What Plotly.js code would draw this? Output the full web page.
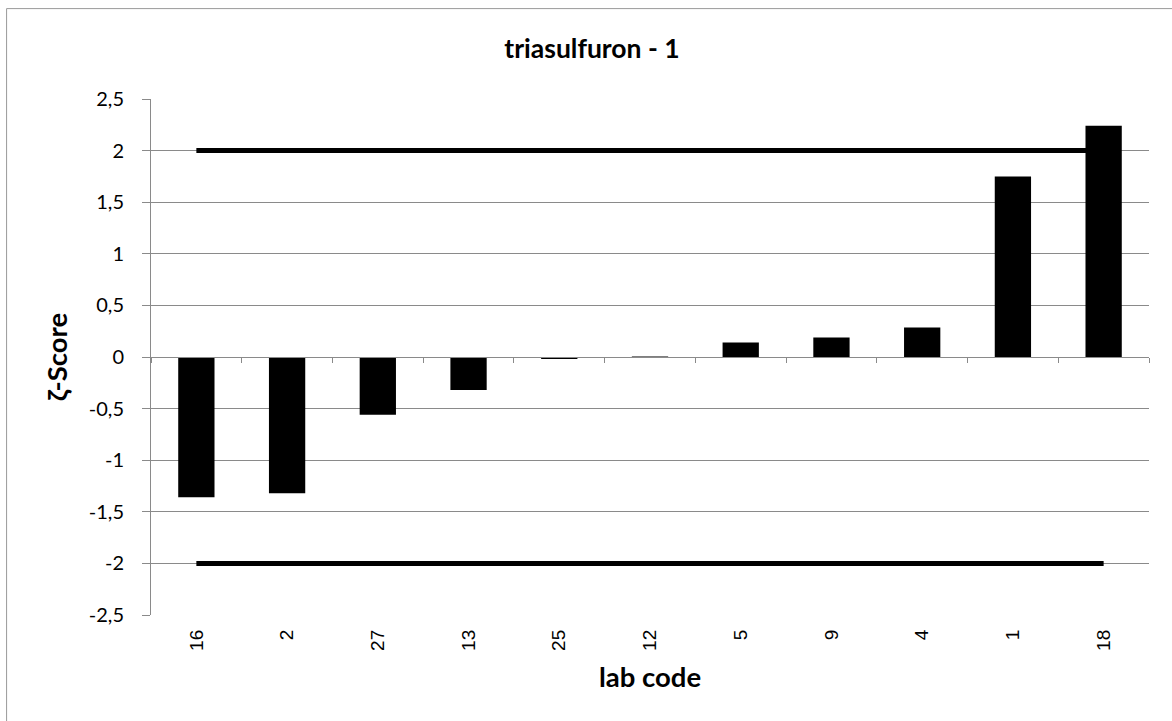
<!DOCTYPE html>
<html>
<head>
<meta charset="utf-8">
<script src="https://cdn.plot.ly/plotly-3.0.1.min.js"></script>
<style>html,body{margin:0;padding:0;background:#fff;}#chart{width:1172px;height:721px;}</style>
</head>
<body>
<div id="chart"></div>
<script>
const labCodes = ["16", "2", "27", "13", "25", "12", "5", "9", "4", "1", "18"];
const zetaScores = [-1.36, -1.32, -0.56, -0.32, -0.02, 0.004, 0.14, 0.19, 0.285, 1.75, 2.24];
const upperLimit = [2, 2, 2, 2, 2, 2, 2, 2, 2, 2, 2];
const lowerLimit = [-2, -2, -2, -2, -2, -2, -2, -2, -2, -2, -2];
const yTickVals = [-2.5, -2, -1.5, -1, -0.5, 0, 0.5, 1, 1.5, 2, 2.5];
const yTickText = ["-2,5", "-2", "-1,5", "-1", "-0,5", "0", "0,5", "1", "1,5", "2", "2,5"];
const chartTitle = "triasulfuron - 1";
const xTitle = "lab code";
const yTitle = "ζ-Score";

const grid = "#8a8a8a";
const traces = [
  {type: "scatter", mode: "lines", x: labCodes, y: upperLimit, xaxis: "x", yaxis: "y",
   line: {color: "#000", width: 5}, hoverinfo: "skip", showlegend: false},
  {type: "scatter", mode: "lines", x: labCodes, y: lowerLimit, xaxis: "x", yaxis: "y",
   line: {color: "#000", width: 5}, hoverinfo: "skip", showlegend: false},
  {type: "bar", x: labCodes, y: zetaScores, xaxis: "x2", yaxis: "y2", width: 0.4,
   marker: {color: "#000", line: {width: 0}}, showlegend: false}
];

const layout = {
  width: 1172, height: 721,
  margin: {l: 151, r: 23, t: 99, b: 106},
  paper_bgcolor: "#fff", plot_bgcolor: "#fff",
  showlegend: false,
  title: {text: "<b>" + chartTitle + "</b>", x: 592/1172, xref: "container", xanchor: "center",
          y: 1 - 49/721, yref: "container", yanchor: "middle",
          font: {family: "Lato, 'Open Sans', sans-serif", size: 26.5, color: "#000"}},
  xaxis: {type: "category", categoryarray: labCodes, range: [-0.5, 10.5], domain: [0, 1],
          anchor: "y", showgrid: false, zeroline: false, showline: false, ticks: "",
          tickangle: -90, ticklabelstandoff: 10,
          tickfont: {family: "'Liberation Sans', Arial, sans-serif", size: 19, color: "#000"},
          title: {text: "<b>" + xTitle + "</b>", standoff: 17,
                  font: {family: "Lato, 'Open Sans', sans-serif", size: 27.5, color: "#000"}},
          automargin: false, fixedrange: true},
  yaxis: {range: [-2.5, 2.5], tickvals: yTickVals, ticktext: yTickText, anchor: "x",
          showgrid: true, gridcolor: grid, gridwidth: 1, zeroline: false,
          showline: true, linecolor: grid, linewidth: 1, ticks: "outside", ticklen: 8, tickcolor: grid,
          ticklabelstandoff: 14,
          tickfont: {family: "Lato, 'Open Sans', sans-serif", size: 20, color: "#000"},
          title: {text: "<b>" + yTitle + "</b>", standoff: 13,
                  font: {family: "Lato, 'Open Sans', sans-serif", size: 27.5, color: "#000"}},
          automargin: false, fixedrange: true},
  xaxis2: {type: "category", categoryarray: labCodes, range: [-0.5, 10.5], overlaying: "x",
           anchor: "free", position: 0.5, showgrid: false, zeroline: false,
           showline: true, linecolor: grid, linewidth: 1, ticks: "outside", ticklen: 5,
           tickcolor: grid, tickson: "boundaries", showticklabels: false, fixedrange: true},
  yaxis2: {range: [-2.5, 2.5], overlaying: "y", anchor: "x2", visible: false,
           showgrid: false, zeroline: false, fixedrange: true},
  shapes: [
    {type: "line", xref: "paper", yref: "paper", x0: -0.1447, x1: 1.2, y0: 1.1752, y1: 1.1752,
     line: {color: "#9a9a9a", width: 1}},
    {type: "line", xref: "paper", yref: "paper", x0: -0.1447, x1: -0.1447, y0: 1.1752, y1: -0.3,
     line: {color: "#9a9a9a", width: 1}}
  ]
};

Plotly.newPlot("chart", traces, layout, {displayModeBar: false, staticPlot: true});
</script>
</body>
</html>
